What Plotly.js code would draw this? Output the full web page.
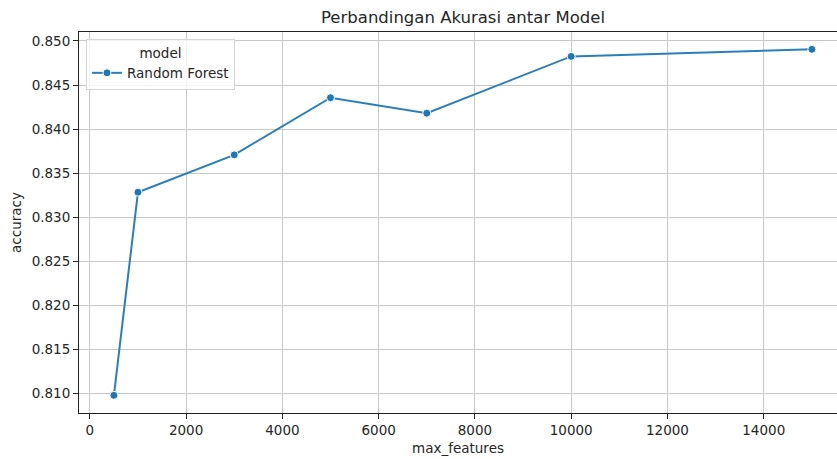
<!DOCTYPE html>
<html>
<head>
<meta charset="utf-8">
<script src="https://cdn.plot.ly/plotly-3.0.1.min.js"></script>
<style>html,body{margin:0;padding:0;background:#fff;}#chart{width:837px;height:459px;}</style>
</head>
<body>
<div id="chart"></div>
<script>
const maxFeatures = [500, 1000, 3000, 5000, 7000, 10000, 15000];
const accuracy = [0.80977, 0.83283, 0.83707, 0.84356, 0.84180, 0.84825, 0.84905];
const seriesName = "Random Forest";
const xTicks = [0, 2000, 4000, 6000, 8000, 10000, 12000, 14000];
const yTicks = [0.810, 0.815, 0.820, 0.825, 0.830, 0.835, 0.840, 0.845, 0.850];

const font = "DejaVu Sans, sans-serif";
const trace = {
  x: maxFeatures, y: accuracy, type: "scatter", mode: "lines+markers", name: seriesName,
  line: {color: "#2a7fba", width: 2},
  marker: {color: "#1f77b4", size: 8, line: {color: "#ffffff", width: 1}}
};
const layout = {
  width: 837, height: 459,
  margin: {l: 79, r: 0, t: 32, b: 46},
  paper_bgcolor: "#fff", plot_bgcolor: "#fff",
  font: {family: font, size: 13.5, color: "#262626"},
  title: {text: "Perbandingan Akurasi antar Model", font: {family: font, size: 16.5, color: "#262626"},
          x: 463/837, xanchor: "center", xref: "container", y: 1 - 17/459, yanchor: "middle"},
  xaxis: {
    range: [-225, 15522], tickvals: xTicks, ticktext: xTicks.map(String),
    showgrid: true, gridcolor: "#c8c8c8", gridwidth: 1, zeroline: false,
    showline: true, linecolor: "#222", linewidth: 1, mirror: true,
    ticks: "outside", ticklen: 5, tickcolor: "#222", tickwidth: 1,
    tickfont: {family: font, size: 13.5, color: "#262626"},
    title: {text: "max_features", font: {family: font, size: 13.5, color: "#262626"}, standoff: 6},
    automargin: false
  },
  yaxis: {
    range: [0.80776, 0.85102], tickvals: yTicks, ticktext: yTicks.map(v => v.toFixed(3)),
    showgrid: true, gridcolor: "#c8c8c8", gridwidth: 1, zeroline: false,
    showline: true, linecolor: "#222", linewidth: 1, mirror: false,
    ticks: "outside", ticklen: 5, tickcolor: "#222", tickwidth: 1,
    tickfont: {family: font, size: 13.5, color: "#262626"},
    title: {text: "accuracy", font: {family: font, size: 13.5, color: "#262626"}, standoff: 6},
    automargin: false
  },
  showlegend: true,
  legend: {
    x: 0.0092, y: 0.9816, xanchor: "left", yanchor: "top",
    bgcolor: "rgba(255,255,255,0.8)", bordercolor: "#d5d5d5", borderwidth: 1,
    font: {family: font, size: 13.5, color: "#262626"},
    title: {text: "model", side: "top center", font: {family: font, size: 13.5, color: "#262626"}},
    itemwidth: 30
  }
};
Plotly.newPlot("chart", [trace], layout, {displayModeBar: false, staticPlot: true});
</script>
</body>
</html>
